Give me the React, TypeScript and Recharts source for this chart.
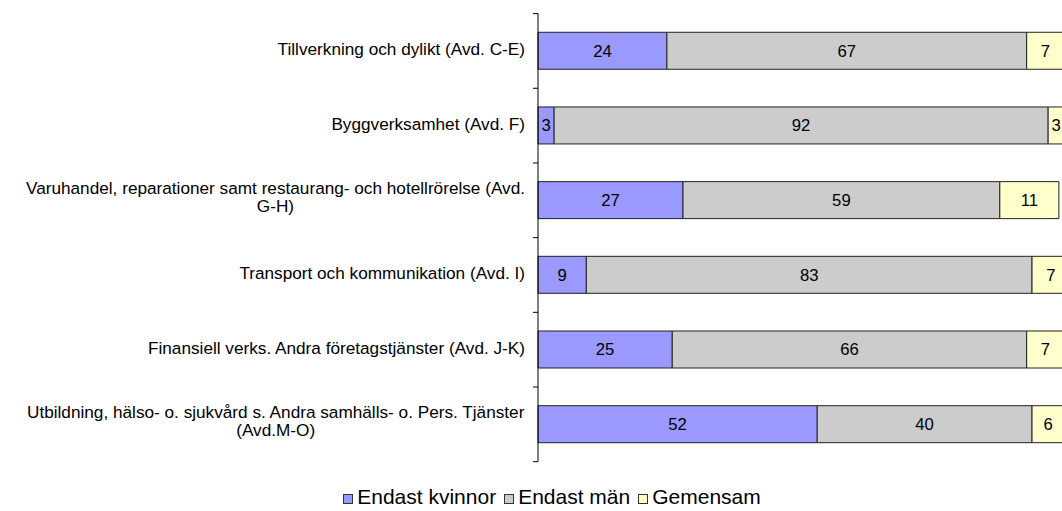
import React from 'react';
import { BarChart, Bar, XAxis, YAxis, LabelList, Legend } from 'recharts';

const categories = [
  'Tillverkning och dylikt (Avd. C-E)',
  'Byggverksamhet (Avd. F)',
  'Varuhandel, reparationer samt restaurang- och hotellrörelse (Avd.\nG-H)',
  'Transport och kommunikation (Avd. I)',
  'Finansiell verks. Andra företagstjänster (Avd. J-K)',
  'Utbildning, hälso- o. sjukvård s. Andra samhälls- o. Pers. Tjänster\n(Avd.M-O)',
];
const endastKvinnor = [24, 3, 27, 9, 25, 52];
const endastMan = [67, 92, 59, 83, 66, 40];
const gemensam = [7, 3, 11, 7, 7, 6];
const seriesKeys = ['k', 'm', 'g'];
const seriesNames = ['Endast kvinnor', 'Endast män', 'Gemensam'];
const seriesColors = ['#9999FF', '#CCCCCC', '#FFFFCC'];

const data = categories.map((name, i) => ({
  name,
  k: endastKvinnor[i],
  m: endastMan[i],
  g: gemensam[i],
}));

const FONT = "'Liberation Sans', Arial, sans-serif";
const CAT_FS = 17.2;
const VAL_FS = 16.7;
const LEG_FS = 21;
const TICK_MARGIN = 13;
const TICK_LEN = 5;

let ctx: CanvasRenderingContext2D | null = null;
function measure(text: string, size: number): number {
  if (!ctx) ctx = document.createElement('canvas').getContext('2d');
  if (!ctx) return text.length * size * 0.5;
  ctx.font = `${size}px 'Liberation Sans', Arial, sans-serif`;
  return ctx.measureText(text).width;
}

const CategoryTick = (props: any) => {
  const { x, y, payload, index, visibleTicksCount } = props;
  const half = payload && payload.offset ? payload.offset : 0;
  const axisX = x + TICK_MARGIN;
  const lines = String(payload.value).split('\n');
  const marks = (
    <g>
      <line x1={axisX - TICK_LEN} x2={axisX} y1={y - half} y2={y - half} stroke="#000" strokeWidth={1} />
      {index === visibleTicksCount - 1 ? (
        <line x1={axisX - TICK_LEN} x2={axisX} y1={y + half} y2={y + half} stroke="#000" strokeWidth={1} />
      ) : null}
    </g>
  );
  if (lines.length === 1) {
    return (
      <g>
        {marks}
        <text x={x} y={y - 2} dy="0.355em" textAnchor="end" fontFamily={FONT} fontSize={CAT_FS} fill="#000">
          {lines[0]}
        </text>
      </g>
    );
  }
  const lh = 18.3;
  const w = Math.max(...lines.map((l) => measure(l, CAT_FS)));
  const cx = x - w / 2;
  const y0 = y - 3.5 - ((lines.length - 1) * lh) / 2;
  return (
    <g>
      {marks}
      <text textAnchor="middle" fontFamily={FONT} fontSize={CAT_FS} fill="#000">
        {lines.map((l, i) => (
          <tspan key={i} x={cx} y={y0 + i * lh} dy="0.355em">
            {l}
          </tspan>
        ))}
      </text>
    </g>
  );
};

const LegendContent = () => (
  <div
    style={{
      display: 'flex',
      justifyContent: 'center',
      alignItems: 'center',
      height: 26,
      fontFamily: FONT,
      fontSize: LEG_FS,
      color: '#000',
      whiteSpace: 'nowrap',
    }}
  >
    {seriesNames.map((n, i) => (
      <span key={n} style={{ display: 'flex', alignItems: 'center', marginRight: i < 2 ? 8 : 0 }}>
        <span
          style={{
            display: 'inline-block',
            width: 8,
            height: 8,
            border: '1px solid #333',
            background: seriesColors[i],
            marginRight: 4,
            marginTop: 3,
          }}
        />
        {n}
      </span>
    ))}
  </div>
);

export default function App() {
  return (
    <div
      style={{
        position: 'absolute',
        left: 0,
        top: 0,
        width: 1062,
        height: 511,
        overflow: 'hidden',
        background: '#fff',
      }}
    >
      <BarChart
        width={1080}
        height={511}
        data={data}
        layout="vertical"
        margin={{ top: 13.6, right: 5, bottom: 23.3, left: 0 }}
        barCategoryGap="25%"
      >
        <XAxis type="number" domain={[0, 100]} hide />
        <YAxis
          yAxisId="cat"
          type="category"
          dataKey="name"
          width={538}
          tickSize={0}
          tickMargin={TICK_MARGIN}
          tickLine={false}
          axisLine={{ stroke: '#000' }}
          interval={0}
          tick={<CategoryTick />}
        />
        <Legend
          verticalAlign="bottom"
          content={<LegendContent />}
          wrapperStyle={{ left: 0, width: 1104, top: 484, bottom: 'auto' }}
        />
        {seriesKeys.map((key, i) => (
          <Bar
            key={key}
            dataKey={key}
            name={seriesNames[i]}
            stackId="a"
            yAxisId="cat"
            fill={seriesColors[i]}
            stroke="#222"
            strokeWidth={1}
            isAnimationActive={false}
          >
            <LabelList dataKey={key} position="center" fill="#000" fontSize={VAL_FS} fontFamily={FONT} />
          </Bar>
        ))}
      </BarChart>
    </div>
  );
}
